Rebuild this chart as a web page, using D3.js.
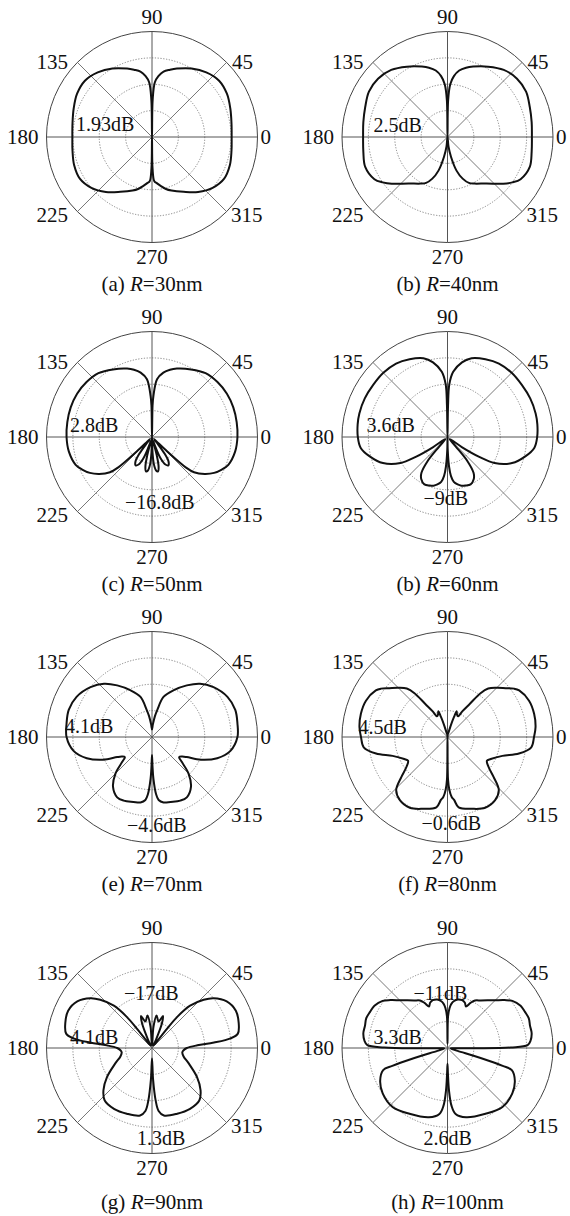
<!DOCTYPE html>
<html>
<head>
<meta charset="utf-8">
<script src="https://cdn.jsdelivr.net/npm/d3@7"></script>
<style>
  body { margin: 0; background: #fff; }
  text { font-family: "Liberation Serif", "Times New Roman", serif; fill: #111; }
</style>
</head>
<body>
<script>
// radiation patterns, right half (deg, normalised radius), mirrored to the left
var patternA = [[-90,0],[-89,0.3],[-87,0.42],[-84,0.44],[-80,0.47],[-75,0.51],[-70,0.54],[-60,0.60],[-50,0.68],[-40,0.75],[-30,0.79],[-20,0.785],[-10,0.765],[0,0.755],[10,0.765],[20,0.79],[30,0.82],[40,0.83],[50,0.80],[60,0.75],[70,0.69],[75,0.66],[80,0.63],[84,0.58],[87,0.52],[89,0.35],[90,0]];
var patternB = [[-90,0],[-84,0.09],[-80,0.19],[-75,0.33],[-70,0.42],[-65,0.48],[-60,0.51],[-50,0.575],[-40,0.69],[-35,0.75],[-30,0.80],[-20,0.83],[-10,0.81],[0,0.80],[10,0.81],[20,0.83],[30,0.86],[40,0.86],[50,0.83],[60,0.77],[70,0.71],[75,0.68],[80,0.64],[84,0.58],[87,0.5],[89,0.35],[90,0]];
var patternC = [[-90,0],[-88,0.15],[-86,0.26],[-83,0.32],[-80,0.33],[-77.5,0.29],[-75.5,0.18],[-74,0.05],[-73,0.04],[-71,0.1],[-68,0.22],[-64,0.29],[-60,0.31],[-56,0.28],[-53,0.2],[-50,0.08],[-47,0.03],[-45,0.04],[-43.5,0.2],[-42,0.43],[-40,0.52],[-35,0.61],[-30,0.68],[-25,0.73],[-20,0.77],[-10,0.80],[0,0.81],[10,0.815],[20,0.82],[30,0.82],[40,0.81],[50,0.79],[60,0.74],[70,0.69],[75,0.66],[80,0.62],[85,0.55],[88,0.39],[89,0.3],[90,0]];
var patternD = [[-90,0],[-89,0.12],[-87,0.28],[-85,0.37],[-82,0.43],[-78,0.46],[-74,0.48],[-70,0.49],[-64,0.50],[-58,0.47],[-54,0.42],[-50.5,0.3],[-49,0.12],[-45,0.03],[-38,0.04],[-35,0.17],[-32,0.355],[-29,0.51],[-22,0.66],[-14,0.76],[-7,0.83],[0,0.85],[8,0.86],[15,0.865],[25,0.865],[35,0.86],[45,0.86],[55,0.85],[64,0.82],[73,0.78],[79,0.72],[85,0.62],[88,0.5],[89,0.3],[90,0]];
var patternE = [[-90,0.17],[-89,0.28],[-88,0.4],[-86,0.54],[-84,0.6],[-80,0.63],[-74,0.64],[-66,0.66],[-60,0.66],[-52,0.6],[-45,0.49],[-40,0.37],[-36.5,0.32],[-33,0.34],[-30,0.38],[-25,0.51],[-18,0.65],[-10,0.755],[0,0.81],[9,0.82],[18,0.83],[28,0.81],[39,0.75],[48,0.68],[56,0.59],[65,0.49],[74,0.395],[79,0.26],[82,0.2],[86,0.12],[90,0.07]];
var patternF = [[-90,0],[-89.3,0.4],[-88,0.5],[-86,0.57],[-84,0.6],[-81,0.675],[-71,0.72],[-62,0.76],[-53,0.75],[-46,0.70],[-41,0.58],[-36,0.48],[-31,0.436],[-27,0.46],[-19,0.55],[-13,0.695],[-7,0.8],[0,0.82],[6.5,0.84],[15,0.85],[24,0.846],[33,0.81],[36,0.78],[40,0.72],[45,0.66],[50,0.6],[53,0.52],[56,0.38],[60,0.28],[63,0.22],[67,0.23],[70.5,0.26],[72,0.2],[74,0.12],[78,0.04],[85,0.02],[90,0]];
var patternG = [[-90,0.1],[-88,0.3],[-86,0.5],[-84,0.6],[-80,0.65],[-69,0.667],[-58,0.68],[-48,0.67],[-41,0.61],[-33,0.51],[-23,0.38],[-15,0.31],[-8,0.29],[-4,0.3],[0,0.33],[3.4,0.43],[5,0.59],[7,0.75],[9.5,0.825],[16,0.855],[24,0.87],[32,0.835],[39,0.75],[43,0.67],[48,0.54],[51,0.38],[52,0.23],[54,0.05],[60,0.03],[64,0.08],[68,0.25],[71,0.32],[76,0.26],[82,0.31],[86,0.2],[90,0.02]];
var patternH = [[-90,0.15],[-89,0.25],[-88,0.4],[-86,0.55],[-83,0.63],[-75,0.68],[-60,0.72],[-47,0.764],[-35,0.75],[-26,0.71],[-19,0.645],[-18,0.55],[-17,0.35],[-16,0.1],[-13,0.04],[-6,0.03],[-2,0.05],[-0.5,0.3],[0.5,0.6],[2,0.76],[5,0.79],[10,0.81],[15,0.81],[20,0.82],[25,0.81],[30,0.8],[36,0.76],[40,0.706],[45,0.64],[50,0.59],[55,0.55],[60,0.52],[63,0.48],[66,0.43],[69,0.46],[73,0.474],[78,0.47],[82,0.45],[85,0.42],[87,0.38],[89,0.3],[90,0.04]];

var patterns = [patternA, patternB, patternC, patternD, patternE, patternF, patternG, patternH];
var panelTags = ["(a)", "(b)", "(c)", "(b)", "(e)", "(f)", "(g)", "(h)"];
var radiiNm = [30, 40, 50, 60, 70, 80, 90, 100];
var noteText = [["1.93dB"], ["2.5dB"], ["2.8dB", "\u221216.8dB"], ["3.6dB", "\u22129dB"],
                ["4.1dB", "\u22124.6dB"], ["4.5dB", "\u22120.6dB"],
                ["\u221217dB", "4.1dB", "1.3dB"], ["\u221211dB", "3.3dB", "2.6dB"]];
var angleTicks = [0, 45, 90, 135, 180, 225, 270, 315];
var ringTicks = [0.25, 0.5, 0.75];

// layout
var notePos = [[[-76,-6]], [[-74,-5]], [[-82,-5],[-27,72]], [[-81,-5],[-24,68]],
               [[-87,-4],[-25,95]], [[-89,-3],[-26,93]],
               [[-28,-48],[-82,-4],[-15,97]], [[-34,-48],[-74,-4],[-24,97]]];
var colX = [152, 447.5];
var rowY = [137, 437, 737, 1048];
var R = 105.5;
var tickPos = {
  0:   {x: R + 3,  y: 7,   a: "start"},
  45:  {x: 80,     y: -68, a: "start"},
  90:  {x: 0,      y: -(R + 8), a: "middle"},
  135: {x: -84,    y: -68, a: "end"},
  180: {x: -(R + 8), y: 7, a: "end"},
  225: {x: -84,    y: 85,  a: "end"},
  270: {x: 0,      y: R + 21, a: "middle"},
  315: {x: 79,     y: 85,  a: "start"}
};

var svg = d3.select("body").append("svg")
    .attr("width", 570)
    .attr("height", 1216);

var r = d3.scaleLinear().domain([0, 1]).range([0, R]);
var rad = function (deg) { return deg * Math.PI / 180; };

var line = d3.lineRadial()
    .angle(function (d) { return rad(90 - d[0]); })
    .radius(function (d) { return r(d[1]); })
    .curve(d3.curveCatmullRomClosed.alpha(0.5));

function fullCircle(half) {
  var left = half.slice(1, -1).reverse().map(function (d) { return [180 - d[0], d[1]]; });
  return half.concat(left);
}

patterns.forEach(function (pts, i) {
  var cx = colX[i % 2], cy = rowY[Math.floor(i / 2)];
  var g = svg.append("g").attr("transform", "translate(" + cx + "," + cy + ")");

  g.selectAll(".ring").data(ringTicks).enter().append("circle")
      .attr("r", function (d) { return r(d); })
      .attr("fill", "none")
      .attr("stroke", "#666")
      .attr("stroke-width", 0.8)
      .attr("stroke-dasharray", "1.2,1.6");

  g.append("circle")
      .attr("r", r(1))
      .attr("fill", "none")
      .attr("stroke", "#444")
      .attr("stroke-width", 1);

  g.selectAll(".spoke").data(angleTicks).enter().append("line")
      .attr("x1", 0).attr("y1", 0)
      .attr("x2", function (d) { return r(1) * Math.cos(rad(d)); })
      .attr("y2", function (d) { return -r(1) * Math.sin(rad(d)); })
      .attr("stroke", "#555")
      .attr("stroke-width", function (d) { return d % 90 === 0 ? 1 : 0.8; });

  g.selectAll(".tick").data(angleTicks).enter().append("text")
      .attr("x", function (d) { return tickPos[d].x; })
      .attr("y", function (d) { return tickPos[d].y; })
      .attr("text-anchor", function (d) { return tickPos[d].a; })
      .style("font-size", "21px")
      .text(function (d) { return d; });

  g.append("path")
      .datum(fullCircle(pts))
      .attr("d", line)
      .attr("fill", "none")
      .attr("stroke", "#111")
      .attr("stroke-width", 2);

  noteText[i].forEach(function (t, j) {
    g.append("text")
        .attr("x", notePos[i][j][0])
        .attr("y", notePos[i][j][1])
        .style("font-size", "20px")
        .text(t);
  });

  var cap = g.append("text")
      .attr("x", 0)
      .attr("y", i >= 6 ? 161 : 154)
      .attr("text-anchor", "middle")
      .style("font-size", "21px");
  cap.append("tspan").text(panelTags[i] + " ");
  cap.append("tspan").style("font-style", "italic").text("R");
  cap.append("tspan").text("=" + radiiNm[i] + "nm");
});
</script>
</body>
</html>
